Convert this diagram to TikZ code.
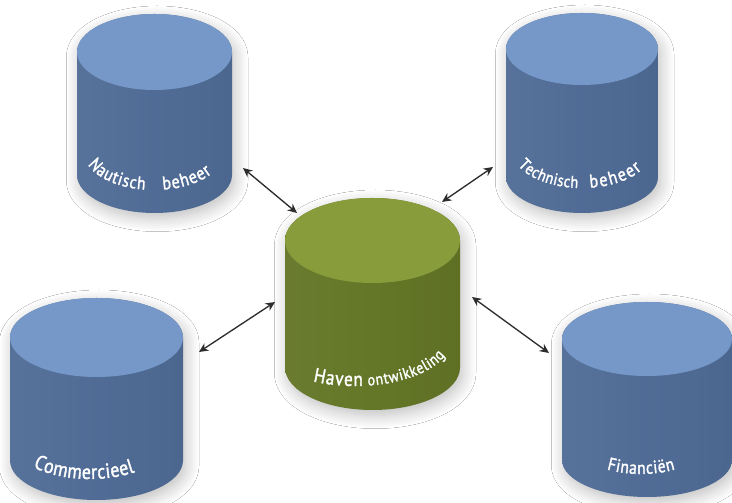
\documentclass[tikz,border=0pt]{standalone}
\usepackage{fontspec}
\setmainfont{PT Sans}
\newfontfamily\labelfont{PT Sans}[FakeStretch=0.86, FakeBold=1.6]
\usetikzlibrary{arrows.meta,decorations.text,shadows.blur}

\definecolor{drumtop}{RGB}{118,152,200}
\definecolor{drumside}{RGB}{80,108,150}
\definecolor{hubtop}{RGB}{137,156,60}
\definecolor{hubside}{RGB}{100,118,39}
\definecolor{linkgrey}{RGB}{45,45,45}

\tikzset{
  link/.style={draw=linkgrey, line width=1pt,
    {Stealth[length=7pt,width=6.5pt]}-{Stealth[length=7pt,width=6.5pt]}},
  drumshadow/.style={blur shadow={shadow xshift=2pt, shadow yshift=-4pt,
    shadow blur radius=10pt, shadow blur steps=12, shadow opacity=26}},
}

% #1 centre x, #2 x radius, #3 y radius, #4 y of top ellipse, #5 y of bottom ellipse,
% #6 top colour, #7 side colour
\newcommand\drum[7]{%
  \path[drumshadow, left color=#7!96!white, right color=#7!95!black, middle color=#7]
    (#1-#2,#4) -- (#1-#2,#5)
    arc[start angle=180, end angle=360, x radius=#2, y radius=#3]
    -- (#1+#2,#4)
    arc[start angle=0, end angle=180, x radius=#2, y radius=#3] -- cycle;
  \fill[#6] (#1,#4) ellipse[x radius=#2, y radius=#3];
}

% white word bent along an elliptic arc, spread to fill the arc
% #1,#2 centre, #3,#4 radii, #5,#6 angles, #7 font size, #8 word
\newcommand\arcword[8]{%
  \path[decorate, decoration={text along path, text align=fit to path, text color=white,
      text={|\labelfont\fontsize{#7}{#7}\selectfont|#8}}]
    (#1,#2) ++(#5:#3 and #4)
    arc[start angle=#5, end angle=#6, x radius=#3, y radius=#4];
}

\begin{document}
\begin{tikzpicture}[x=0.75pt, y=0.75pt]
  \useasboundingbox (0,0) rectangle (732,503);
  \fill[white] (0,0) rectangle (732,503);

  % cylinders
  \drum{154.5}{77.5}{38}{451}{328}{drumtop}{drumside}
  \drum{582}{76}{36}{454}{326}{drumtop}{drumside}
  \drum{372.5}{87.5}{42.5}{262.5}{135.5}{hubtop}{hubside}
  \drum{96.5}{86.5}{39.5}{165.5}{42.5}{drumtop}{drumside}
  \drum{647}{85}{37}{164}{43}{drumtop}{drumside}

  % labels
  \arcword{154}{351}{70}{38}{199.4}{262.6}{13.5}{Nautisch}
  \arcword{154}{351}{70}{38}{277.4}{326}{14}{beheer}
  \arcword{582}{353}{70}{38}{203.9}{266.7}{12.5}{Technisch}
  \arcword{582}{353}{70}{38}{276.6}{329}{14}{beheer}
  \arcword{355}{162}{95}{45}{243.8}{274.8}{15}{Haven}
  \arcword{355}{162}{95}{45}{277.9}{341.3}{12}{ontwikkeling}
  \arcword{90}{64}{80}{40}{224.6}{304.2}{15.5}{Commercieel}
  \arcword{641}{74}{78}{45}{244}{296}{13.5}{Financiën}

  % connector ends
  \coordinate (nautEnd) at (243,335);
  \coordinate (hubNW)   at (297,290);
  \coordinate (techEnd) at (493,336);
  \coordinate (hubNE)   at (442,301);
  \coordinate (commEnd) at (199,151);
  \coordinate (hubW)    at (275,201);
  \coordinate (finEnd)  at (549,150);
  \coordinate (hubE)    at (472,206);

  \draw[link] (nautEnd) -- (hubNW);
  \draw[link] (techEnd) -- (hubNE);
  \draw[link] (commEnd) -- (hubW);
  \draw[link] (finEnd)  -- (hubE);
\end{tikzpicture}
\end{document}
